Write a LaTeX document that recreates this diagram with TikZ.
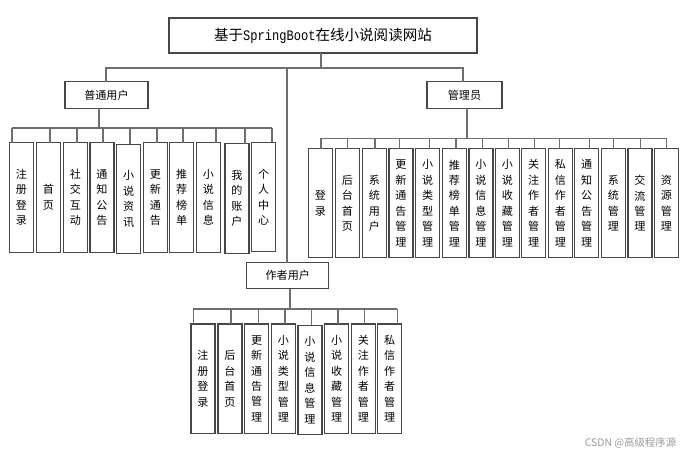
\documentclass[tikz,border=0pt]{standalone}
\usepackage{fontspec}
\usepackage{graphicx}
\setmainfont{Noto Sans CJK SC}
\newfontfamily\cjk{Noto Sans CJK SC}
\newfontfamily\latmono{Liberation Mono}
\definecolor{boxc}{HTML}{474747}
\definecolor{linec}{HTML}{6E6E6E}
\definecolor{markc}{HTML}{9A9A9A}
\begin{document}
\begin{tikzpicture}[x=0.75pt,y=-0.75pt,
  conn/.style={draw=linec, line width=0.8pt},
  boxbase/.style={draw=boxc, line width=0.8pt, fill=white, inner sep=0pt, outer sep=0pt, align=center},
  leaf/.style={boxbase, minimum width=18pt, minimum height=82pt, font=\fontsize{8.3pt}{11.6pt}\selectfont},
  midbox/.style={boxbase, minimum height=19.6pt, font=\fontsize{8.3pt}{10pt}\selectfont},
  titlebox/.style={boxbase, minimum width=231pt, minimum height=26.25pt, font=\fontsize{10.9pt}{12pt}\selectfont},
  wmark/.style={text=markc, font=\fontsize{7.8pt}{9pt}\selectfont, inner sep=0pt}
]
\useasboundingbox (0,0) rectangle (694,456);
% top nodes
\node[titlebox] (title) at (323,35.5) {基于{\latmono\scalebox{0.83}[1]{SpringBoot}}在线小说阅读网站};
\node[midbox, minimum width=62.25pt] (uu) at (106.5,95) {普通用户};
\node[midbox, minimum width=56.25pt] (ad) at (464.5,95) {管理员};
\node[midbox, minimum width=61.7pt] (au) at (287.8,275.8) {作者用户};
% top connectors
\coordinate (tbar) at (321,68);
\draw[conn] (321,0 |- title.south) -- (tbar);
\draw[conn] (106,0 |- uu.north) -- (106,68) -- (463,68) -- (463,0 |- ad.north);
\draw[conn] (287,68) -- (287,0 |- au.north);

% user leaves
\node[leaf] (u1) at (21.3,197.5) {注\\册\\登\\录};
\node[leaf] (u2) at (48.3,197.5) {首\\页};
\node[leaf] (u3) at (75.3,197.5) {社\\交\\互\\动};
\node[leaf] (u4) at (102,197.5) {通\\知\\公\\告};
\node[leaf] (u5) at (128.7,199) {小\\说\\资\\讯};
\node[leaf] (u6) at (155.3,197.5) {更\\新\\通\\告};
\node[leaf] (u7) at (181.7,197.5) {推\\荐\\榜\\单};
\node[leaf] (u8) at (208.3,197.5) {小\\说\\信\\息};
\node[leaf] (u9) at (237,198.5) {我\\的\\账\\户};
\node[leaf] (u10) at (263.7,197) {个\\人\\中\\心};
\coordinate (ubar) at (99,128);
\draw[conn] (99,0 |- uu.south) -- (ubar);
\draw[conn] (12,128) -- (272,128);
\foreach \n/\d in {u1/12,u2/50,u3/77,u4/103,u5/130,u6/157,u7/183,u8/216,u9/245,u10/272}
  \draw[conn] (\d,128) -- (\d,0 |- \n.north);

% admin leaves
\node[leaf] (a1) at (320.3,203.3) {登\\录};
\node[leaf] (a2) at (347.3,203.3) {后\\台\\首\\页};
\node[leaf] (a3) at (374.3,203.3) {系\\统\\用\\户};
\node[leaf] (a4) at (401,203.3) {更\\新\\通\\告\\管\\理};
\node[leaf] (a5) at (427.7,203.3) {小\\说\\类\\型\\管\\理};
\node[leaf] (a6) at (454.3,203.3) {推\\荐\\榜\\单\\管\\理};
\node[leaf] (a7) at (481,203.3) {小\\说\\信\\息\\管\\理};
\node[leaf] (a8) at (507.3,203.3) {小\\说\\收\\藏\\管\\理};
\node[leaf] (a9) at (533.7,203.3) {关\\注\\作\\者\\管\\理};
\node[leaf] (a10) at (560.3,203.3) {私\\信\\作\\者\\管\\理};
\node[leaf] (a11) at (586.7,203.3) {通\\知\\公\\告\\管\\理};
\node[leaf] (a12) at (613.3,203.3) {系\\统\\管\\理};
\node[leaf] (a13) at (640,203.3) {交\\流\\管\\理};
\node[leaf] (a14) at (666.3,203.3) {资\\源\\管\\理};
\coordinate (abar) at (467,138.3);
\draw[conn] (467,0 |- ad.south) -- (abar);
\draw[conn] (321,138.3) -- (666.7,138.3);
\foreach \n/\d in {a1/321,a2/347.7,a3/375,a4/399.3,a5/429.3,a6/456,a7/482.3,a8/508.3,a9/534.3,a10/559.7,a11/589.3,a12/613.3,a13/640.7,a14/666.7}
  \draw[conn] (\d,138.3) -- (\d,0 |- \n.north);

% author leaves
\node[leaf] (w1) at (203,378.7) {注\\册\\登\\录};
\node[leaf] (w2) at (230,378.7) {后\\台\\首\\页};
\node[leaf] (w3) at (256.7,378.7) {更\\新\\通\\告\\管\\理};
\node[leaf] (w4) at (283.3,378.7) {小\\说\\类\\型\\管\\理};
\node[leaf] (w5) at (310,380.1) {小\\说\\信\\息\\管\\理};
\node[leaf] (w6) at (336.7,378.7) {小\\说\\收\\藏\\管\\理};
\node[leaf] (w7) at (363.3,378.7) {关\\注\\作\\者\\管\\理};
\node[leaf] (w8) at (389.7,378.7) {私\\信\\作\\者\\管\\理};
\coordinate (wbar) at (290,309);
\draw[conn] (290,0 |- au.south) -- (wbar);
\draw[conn] (193.3,309) -- (397.3,309);
\foreach \n/\d in {w1/193.3,w2/231,w3/258.3,w4/285,w5/311.7,w6/338,w7/364.3,w8/397.3}
  \draw[conn] (\d,309) -- (\d,0 |- \n.north);

% watermark
\node[wmark] (wm) at (630.5,443) {CSDN @高级程序源};
\end{tikzpicture}
\end{document}
